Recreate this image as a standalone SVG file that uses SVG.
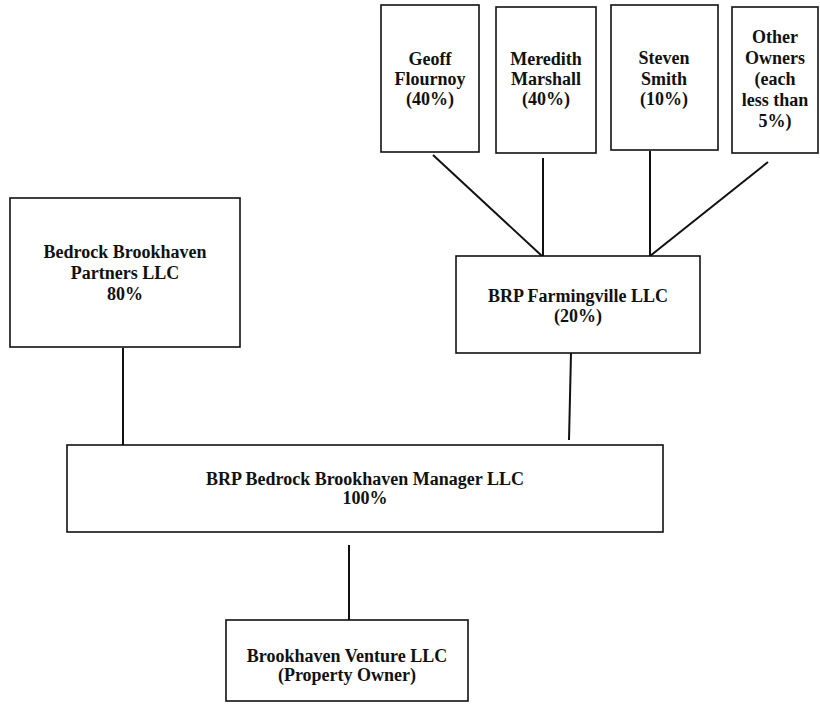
<svg xmlns="http://www.w3.org/2000/svg" width="820" height="711" viewBox="0 0 820 711">
<style>
.box{fill:#fff;stroke:#111;stroke-width:1.6}
.t{font-family:"Liberation Serif","Times New Roman",serif;font-size:18px;font-weight:bold;fill:#111;text-anchor:middle}
.c{stroke:#111;stroke-width:2;fill:none}
</style>
<rect width="820" height="711" fill="#fff"/>
<g id="connectors">
<line class="c" x1="433" y1="155" x2="542" y2="256"/>
<line class="c" x1="543" y1="158" x2="543" y2="256"/>
<line class="c" x1="650" y1="151" x2="650" y2="256"/>
<line class="c" x1="768" y1="162" x2="650" y2="256"/>
<line class="c" x1="123" y1="348" x2="123" y2="445"/>
<line class="c" x1="571" y1="353" x2="569" y2="440"/>
<line class="c" x1="349" y1="545" x2="349" y2="620"/>
</g>
<g id="geoff">
<rect class="box" x="381" y="5" width="98" height="147"/>
<text class="t" x="430" y="65">Geoff</text>
<text class="t" x="430" y="85">Flournoy</text>
<text class="t" x="430" y="105">(40%)</text>
</g>
<g id="meredith">
<rect class="box" x="496" y="7" width="100" height="146"/>
<text class="t" x="546" y="65">Meredith</text>
<text class="t" x="546" y="85">Marshall</text>
<text class="t" x="546" y="105">(40%)</text>
</g>
<g id="steven">
<rect class="box" x="611" y="5" width="107" height="145"/>
<text class="t" x="664" y="64">Steven</text>
<text class="t" x="664" y="85">Smith</text>
<text class="t" x="664" y="105">(10%)</text>
</g>
<g id="other">
<rect class="box" x="732" y="7" width="86" height="146"/>
<text class="t" x="775" y="43">Other</text>
<text class="t" x="775" y="64">Owners</text>
<text class="t" x="775" y="85">(each</text>
<text class="t" x="775" y="106">less than</text>
<text class="t" x="775" y="127">5%)</text>
</g>
<g id="bedrock">
<rect class="box" x="10" y="198" width="230" height="149"/>
<text class="t" x="125" y="258">Bedrock Brookhaven</text>
<text class="t" x="125" y="279">Partners LLC</text>
<text class="t" x="125" y="300">80%</text>
</g>
<g id="farmingville">
<rect class="box" x="456" y="256" width="244" height="97"/>
<text class="t" x="578" y="302">BRP Farmingville LLC</text>
<text class="t" x="578" y="322">(20%)</text>
</g>
<g id="manager">
<rect class="box" x="67" y="445" width="596" height="87"/>
<text class="t" x="365" y="485">BRP Bedrock Brookhaven Manager LLC</text>
<text class="t" x="365" y="504">100%</text>
</g>
<g id="venture">
<rect class="box" x="226" y="620" width="242" height="81"/>
<text class="t" x="347" y="662">Brookhaven Venture LLC</text>
<text class="t" x="347" y="681">(Property Owner)</text>
</g>
</svg>
